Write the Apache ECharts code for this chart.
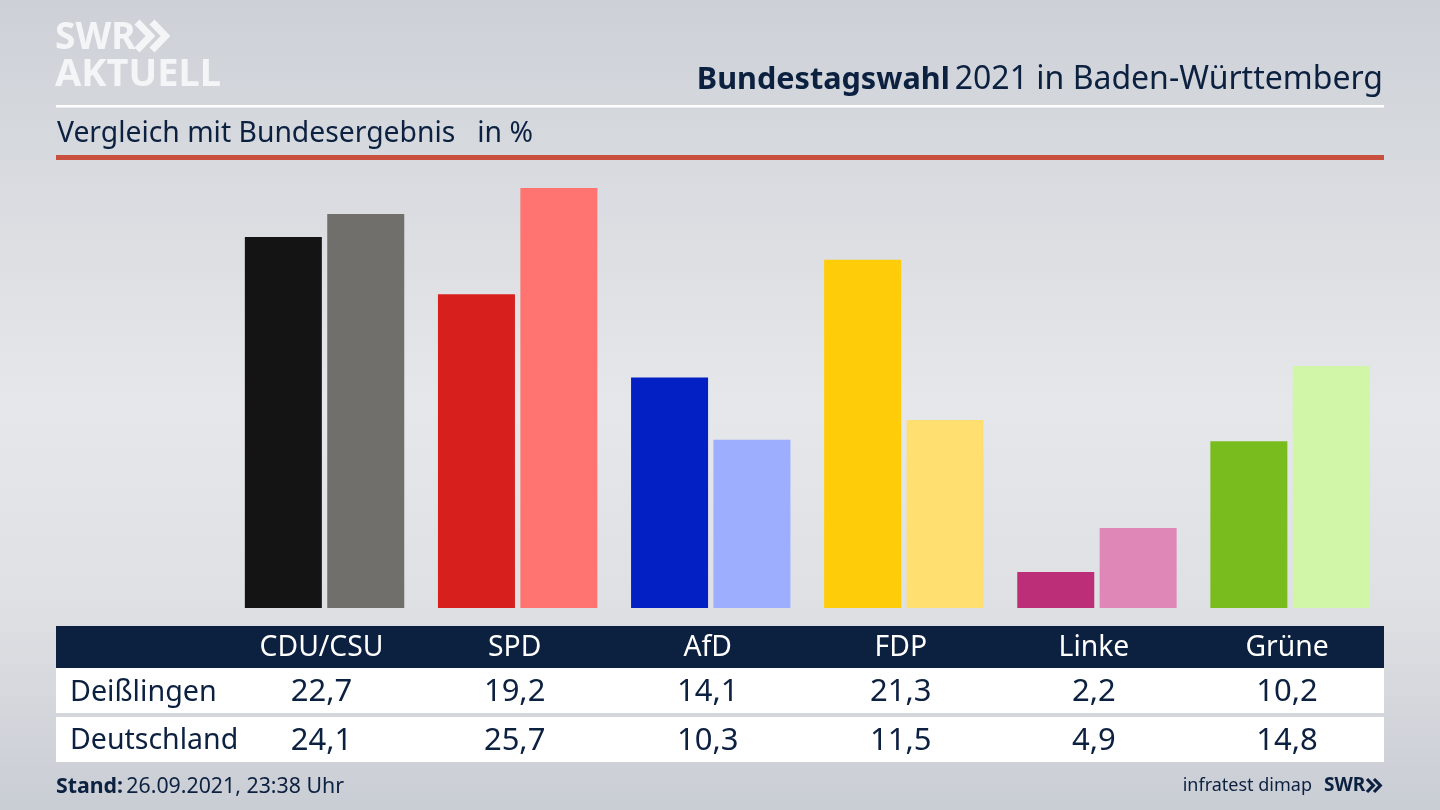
<!DOCTYPE html>
<html><head><meta charset="utf-8">
<style>html,body{margin:0;padding:0;background:#d8dade}#c{width:1440px;height:810px}</style>
<script src="https://cdn.jsdelivr.net/npm/echarts@6/dist/echarts.min.js"></script>
</head><body><div id="c"></div>
<script>
const parties = ['CDU/CSU','SPD','AfD','FDP','Linke','Grüne'];
const local = [22.7,19.2,14.1,21.3,2.2,10.2];
const national = [24.1,25.7,10.3,11.5,4.9,14.8];
const localName = 'Deißlingen';
const nationalName = 'Deutschland';
const localColors = ['#141414','#d7201e','#0220c4','#ffcc0a','#bc2f78','#78bc1e'];
const nationalColors = ['#706f6c','#ff7470','#9dadff','#ffdf70','#df87b6','#d2f6a8'];
const fmt = v => v.toFixed(1).replace('.',',');
const FONT = '"Noto Sans"';
const NAVY = '#0c2040';
const chart = echarts.init(document.getElementById('c'),null,{renderer:'canvas'});
const rowAxis = (data,offset,color,size) => ({
  type:'category',data,position:'bottom',offset,z:10,
  axisLine:{show:false},axisTick:{show:false},
  axisLabel:{show:true,interval:0,color,fontFamily:FONT,fontSize:size,margin:0,verticalAlign:'middle',lineHeight:30,padding:[0,6,0,0]}
});
const chevrons = (x,y,h,w,lw,color) => [0,1].map(i=>({
  type:'polyline',z:6,
  shape:{points:[[x+i*w,y],[x+i*w+w*0.9,y+h/2],[x+i*w,y+h]]},
  style:{stroke:color,lineWidth:lw,fill:null}
}));
const txt = (x,y,text,size,color,weight='normal',align='left') => ({
  type:'text',x,y,z:6,
  style:{text,fontFamily:FONT,fontSize:size,fontWeight:weight,fill:color,align,verticalAlign:'middle'}
});
const rect = (x,y,width,height,fill) => ({type:'rect',z:-1,shape:{x,y,width,height},style:{fill}});
chart.setOption({
  animation:false,
  backgroundColor:{type:'linear',x:0,y:0,x2:0,y2:1,colorStops:[
    {offset:0,color:'#cdd1d7'},{offset:0.5,color:'#e6e7ea'},{offset:0.75,color:'#dfe0e4'},{offset:1,color:'#c9cdd4'}]},
  title:{
    right:57,top:64,padding:0,
    text:'{b|Bundestagswahl} {n|2021 in Baden-Württemberg}',
    textStyle:{fontWeight:'normal',rich:{
      b:{fontFamily:FONT,fontSize:30.6,fontWeight:'bold',color:NAVY},
      n:{fontFamily:FONT,fontSize:32,fontWeight:'normal',color:NAVY}}}
  },
  grid:{left:228,width:1158.6,top:183,height:425},
  xAxis:[
    {type:'category',data:parties,axisLine:{show:false},axisTick:{show:false},axisLabel:{show:false}},
    rowAxis(parties,40,'#ffffff',28.3),
    rowAxis(local.map(fmt),84,NAVY,31),
    rowAxis(national.map(fmt),133,NAVY,31)
  ],
  yAxis:{type:'value',min:0,max:26,show:false,splitLine:{show:false}},
  series:[
    {name:localName,type:'bar',barWidth:77,barGap:'7%',
     data:local.map((value,i)=>({value,itemStyle:{color:localColors[i]}}))},
    {name:nationalName,type:'bar',barWidth:77,
     data:national.map((value,i)=>({value,itemStyle:{color:nationalColors[i]}}))}
  ],
  graphic:[
    rect(56,105,1328,2.5,'#ffffff'),
    rect(56,155,1328,5,'#c9503f'),
    rect(56,626,1328,42,NAVY),
    rect(56,668,1328,45,'#ffffff'),
    rect(56,717,1328,45,'#ffffff'),
    txt(57,134,'Vergleich mit Bundesergebnis   in %',28.3,NAVY),
    txt(70,693,localName,28.7,NAVY),
    txt(70,741,nationalName,28.5,NAVY),
    {type:'text',x:56,y:787,z:6,style:{
      text:'{b|Stand:} {n|26.09.2021, 23:38 Uhr}',verticalAlign:'middle',
      rich:{b:{fontFamily:FONT,fontSize:21.3,fontWeight:'bold',fill:NAVY},n:{fontFamily:FONT,fontSize:21.3,fill:NAVY}}}},
    txt(1312,786,'infratest dimap',18,NAVY,'normal','right'),
    txt(1324,786,'SWR',19,NAVY,'bold'),
    ...chevrons(1367,779,13,7,3.2,NAVY),
    txt(55,38,'SWR',37,'#f4f5f6','bold'),
    txt(55,75,'AKTUELL',38,'#f4f5f6','bold'),
    ...chevrons(137,22,28,15,7,'#f4f5f6')
  ]
});
</script></body></html>
